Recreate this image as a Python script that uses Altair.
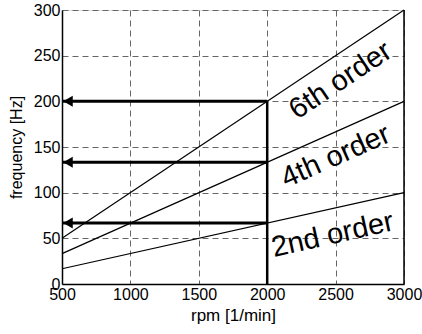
import altair as alt
import pandas as pd

# order lines (rpm endpoints and frequency values)
line_order = ["2nd", "2nd", "4th", "4th", "6th", "6th"]
line_rpm = [500, 3000, 500, 3000, 500, 3000]
line_freq = [16.7, 100, 33.3, 200, 50, 300]

# arrows from operating point at 2000 rpm back to the frequency axis
arrow_freq = [200, 133.3, 66.7]
arrow_start = [2000, 2000, 2000]
arrow_end = [500, 500, 500]

# vertical operating line
op_rpm = [2000]
op_f0 = [0]
op_f1 = [200]

# text labels
label_text = ["6th order", "4th order", "2nd order"]
label_rpm = [2535, 2500, 2478]
label_freq = [223, 140, 54]
label_angle = [326.3, 336, 347.5]

lines_df = pd.DataFrame({"order": line_order, "rpm": line_rpm, "freq": line_freq})
arrows_df = pd.DataFrame({"f": arrow_freq, "x1": arrow_start, "x2": arrow_end})
op_df = pd.DataFrame({"x": op_rpm, "y0": op_f0, "y1": op_f1})
lab_df = pd.DataFrame({"t": label_text, "x": label_rpm, "y": label_freq, "a": label_angle})

FONT = "Liberation Sans"

xscale = alt.Scale(domain=[500, 3000], nice=False, zero=False)
yscale = alt.Scale(domain=[0, 300], nice=False)

xaxis = alt.Axis(values=[500, 1000, 1500, 2000, 2500, 3000], title="rpm [1/min]",
                 format="d",
                 labelFontSize=16, titleFontSize=17, titleFontWeight="normal",
                 labelColor="black", titleColor="black", domainColor="black",
                 domainWidth=1.5, ticks=False, labelPadding=2, titlePadding=5,
                 grid=True, gridDash=[6, 4], gridColor="#666666", gridWidth=1,
                 labelFont=FONT, titleFont=FONT, labelFlush=False)
yaxis = alt.Axis(values=[0, 50, 100, 150, 200, 250, 300], title="frequency [Hz]",
                 labelFontSize=16, titleFontSize=16, titleFontWeight="normal",
                 labelColor="black", titleColor="black", domainColor="black",
                 domainWidth=1.5, ticks=False, labelPadding=2, titlePadding=9,
                 grid=True, gridDash=[6, 4], gridColor="#666666", gridWidth=1,
                 labelFont=FONT, titleFont=FONT, labelFlush=False)

lines = alt.Chart(lines_df).mark_line(color="black", strokeWidth=1.2).encode(
    x=alt.X("rpm:Q", scale=xscale, axis=xaxis),
    y=alt.Y("freq:Q", scale=yscale, axis=yaxis),
    detail="order:N",
)

arrows = alt.Chart(arrows_df).mark_rule(color="black", strokeWidth=3).encode(
    x=alt.X("x1:Q", scale=xscale),
    x2="x2:Q",
    y=alt.Y("f:Q", scale=yscale),
)

heads = alt.Chart(arrows_df).mark_point(
    shape="triangle-left", filled=True, color="black", size=120, opacity=1, xOffset=6
).encode(
    x=alt.X("x2:Q", scale=xscale),
    y=alt.Y("f:Q", scale=yscale),
)

op = alt.Chart(op_df).mark_rule(color="black", strokeWidth=2.5).encode(
    x=alt.X("x:Q", scale=xscale),
    y=alt.Y("y0:Q", scale=yscale),
    y2="y1:Q",
)

right_edge = alt.Chart(pd.DataFrame({"x": [3000]})).mark_rule(color="black", strokeWidth=1.5).encode(
    x=alt.X("x:Q", scale=xscale),
)

labels = alt.Chart(lab_df).mark_text(font=FONT, fontSize=29, color="black").encode(
    x=alt.X("x:Q", scale=xscale),
    y=alt.Y("y:Q", scale=yscale),
    text="t:N",
    angle=alt.Angle("a:Q", scale=None),
)

chart = alt.layer(lines, arrows, heads, op, right_edge, labels).properties(
    width=342, height=274,
    autosize=alt.AutoSizeParams(type="none"),
    padding={"left": 62, "top": 10, "right": 18, "bottom": 50},
).configure_view(stroke=None).configure(background="white")

chart.save("out.html", embed_options={"renderer": "svg", "actions": False})
